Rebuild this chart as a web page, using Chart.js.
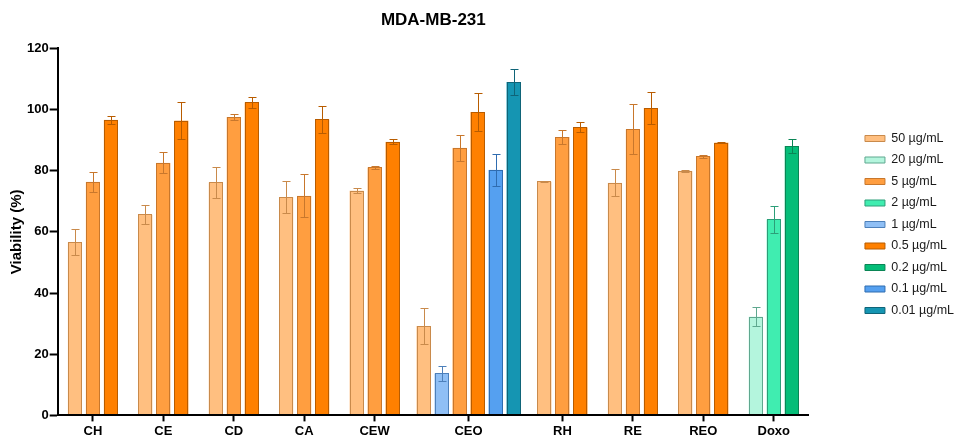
<!DOCTYPE html>
<html>
<head>
<meta charset="utf-8">
<title>MDA-MB-231</title>
<script src="https://cdn.jsdelivr.net/npm/chart.js@4.4.1/dist/chart.umd.min.js"></script>
<style>
  html, body { margin: 0; padding: 0; background: #fff; }
</style>
</head>
<body>
<canvas id="viabilityChart" width="964" height="441"></canvas>
<script>
// extracts / controls on the x axis
const categories = ['CH', 'CE', 'CD', 'CA', 'CEW', 'CEO', 'RH', 'RE', 'REO', 'Doxo'];
const doseLabels = ['50 µg/mL', '20 µg/mL', '5 µg/mL', '2 µg/mL', '1 µg/mL', '0.5 µg/mL', '0.2 µg/mL', '0.1 µg/mL', '0.01 µg/mL'];
const yTicks = [0, 20, 40, 60, 80, 100, 120];

// mean viability (%), one value per category (null = not tested)
const v50  = [56.6, 65.7, 76.2, 71.4, 73.5, 29.2, 76.5, 76.1, 80.0, null];
const v20  = [null, null, null, null, null, null, null, null, null, 32.3];
const v5   = [76.4, 82.6, 97.6, 71.8, 81.1, 87.5, 91.0, 93.6, 84.7, null];
const v2   = [null, null, null, null, null, null, null, null, null, 64.1];
const v1   = [null, null, null, null, null, 13.8, null, null, null, null];
const v05  = [96.7, 96.4, 102.4, 96.8, 89.5, 99.2, 94.2, 100.5, 89.2, null];
const v02  = [null, null, null, null, null, null, null, null, null, 88.1];
const v01  = [null, null, null, null, null, 80.3, null, null, null, null];
const v001 = [null, null, null, null, null, 109.0, null, null, null, null];

// error (SD) for each mean above
const e50  = [4.2, 3.0, 5.0, 5.2, 0.9, 5.9, 0.3, 4.5, 0.4, null];
const e20  = [null, null, null, null, null, null, null, null, null, 3.1];
const e5   = [3.3, 3.4, 1.0, 7.0, 0.5, 4.3, 2.3, 8.1, 0.5, null];
const e2   = [null, null, null, null, null, null, null, null, null, 4.5];
const e1   = [null, null, null, null, null, 2.4, null, null, null, null];
const e05  = [1.3, 6.1, 1.8, 4.4, 0.9, 6.2, 1.6, 5.2, 0.2, null];
const e02  = [null, null, null, null, null, null, null, null, null, 2.2];
const e01  = [null, null, null, null, null, 5.3, null, null, null, null];
const e001 = [null, null, null, null, null, 4.2, null, null, null, null];

const seriesValues = [v50, v20, v5, v2, v1, v05, v02, v01, v001];
const seriesErrors = [e50, e20, e5, e2, e1, e05, e02, e01, e001];

// styling (legend order)
const fillColors = ['#FFBF80', '#B4F5DD', '#FF9E40', '#40EDB0', '#8FBFF5', '#FF8000', '#05BD78', '#55A0F0', '#1595B2'];
const edgeColors = ['#C98A4B', '#5FA88F', '#C8772C', '#2C9E78', '#4D80BA', '#B85C00', '#0A8555', '#2F6CB0', '#0F6478'];
// order of the bars inside a group (1 µg/mL sits right after 50 µg/mL in CEO)
const groupOrder = [0, 1, 4, 2, 3, 5, 6, 7, 8];

const barGap = 2;    // white strip each side of a bar
const capHalf = 4;
const legendGap = 47;
const legendLift = -4;

// each group gets a few category slots so wide groups (CEO) get more room
const barsIn = categories.map((_, i) => seriesValues.filter(s => s[i] != null).length);
const slotLabels = [];
const slotOf = [];
categories.forEach((c, i) => {
  const n = Math.ceil(barsIn[i] * 0.8);
  for (let k = 0; k < n; k++) {
    if (k === (n - 1) / 2) {
      slotOf.push(slotLabels.length);
      slotLabels.push(c);
    } else {
      slotLabels.push('');
    }
  }
});
const spread = arr => {
  const out = slotLabels.map(() => null);
  arr.forEach((v, i) => { out[slotOf[i]] = v; });
  return out;
};

const datasets = groupOrder.map(k => ({
  label: doseLabels[k],
  data: spread(seriesValues[k]),
  errors: spread(seriesErrors[k]),
  legendRank: k,
  edgeColor: edgeColors[k],
  backgroundColor: fillColors[k],
  borderColor: '#ffffff',
  borderWidth: { left: barGap, right: barGap, top: 0, bottom: 0 },
  inflateAmount: 0,
  barThickness: 18,
  skipNull: true
}));

// outlines + error bars on top of the bars
const errorBars = {
  id: 'errorBars',
  afterDatasetsDraw(chart) {
    const { ctx } = chart;
    const y = chart.scales.y;
    chart.data.datasets.forEach((ds, di) => {
      const meta = chart.getDatasetMeta(di);
      meta.data.forEach((bar, i) => {
        const v = ds.data[i];
        if (v == null) return;
        ctx.save();
        ctx.strokeStyle = ds.edgeColor;
        ctx.lineWidth = 1;
        const left = Math.round(bar.x - bar.width / 2 + barGap);
        const w = Math.round(bar.width - 2 * barGap);
        const top = Math.round(bar.y);
        ctx.strokeRect(left + 0.5, top + 0.5, w - 1, bar.base - top);
        const e = ds.errors[i];
        if (e) {
          const hi = Math.round(y.getPixelForValue(v + e)) + 0.5;
          const lo = Math.round(y.getPixelForValue(v - e)) + 0.5;
          const cx = Math.round(bar.x) + 0.5;
          ctx.beginPath();
          ctx.moveTo(cx, hi); ctx.lineTo(cx, lo);
          ctx.moveTo(cx - capHalf, hi); ctx.lineTo(cx + capHalf, hi);
          ctx.moveTo(cx - capHalf, lo); ctx.lineTo(cx + capHalf, lo);
          ctx.stroke();
        }
        ctx.restore();
      });
    });
  }
};

// push the legend a bit away from the plot
const legendShift = {
  id: 'legendShift',
  beforeLayout(chart) {
    const lg = chart.legend;
    if (!lg || lg._widened) return;
    const fit = lg.fit;
    lg.fit = function () {
      fit.call(this);
      this.width += legendGap;
    };
    lg._widened = true;
  },
  afterLayout(chart) {
    const lg = chart.legend;
    lg.left += legendGap;
    lg.top -= legendLift;
    lg.bottom -= legendLift;
  }
};

Chart.defaults.font.family = '"Liberation Sans", Arial, Helvetica, sans-serif';
Chart.defaults.color = '#000';

new Chart(document.getElementById('viabilityChart').getContext('2d'), {
  type: 'bar',
  data: { labels: slotLabels, datasets: datasets },
  options: {
    responsive: false,
    animation: false,
    devicePixelRatio: 1,
    layout: { padding: 0 },
    plugins: {
      title: {
        display: true,
        text: 'MDA-MB-231',
        fullSize: false,
        color: '#000',
        font: { size: 17, weight: 'bold' },
        padding: { top: 10, bottom: 18 }
      },
      legend: {
        position: 'right',
        labels: {
          boxWidth: 20,
          boxHeight: 6,
          padding: 9,
          color: '#1a1a1a',
          font: { size: 12.5 },
          sort: (a, b) => datasets[a.datasetIndex].legendRank - datasets[b.datasetIndex].legendRank,
          generateLabels: chart => Chart.defaults.plugins.legend.labels.generateLabels(chart).map(l => ({
            ...l,
            strokeStyle: datasets[l.datasetIndex].edgeColor,
            lineWidth: 1
          }))
        }
      },
      tooltip: { enabled: false }
    },
    scales: {
      x: {
        grid: {
          drawOnChartArea: false,
          offset: false,
          tickLength: 6,
          tickWidth: 2,
          tickColor: ctx => (slotLabels[ctx.index] ? '#000' : 'rgba(0,0,0,0)')
        },
        border: { color: '#000', width: 2, z: 1 },
        ticks: {
          autoSkip: false,
          maxRotation: 0,
          padding: 2,
          color: '#000',
          font: { size: 13, weight: 'bold' }
        }
      },
      y: {
        min: 0,
        max: 120,
        afterBuildTicks: axis => { axis.ticks = yTicks.map(v => ({ value: v })); },
        grid: {
          drawOnChartArea: false,
          tickLength: 8,
          tickWidth: 2,
          tickColor: '#000'
        },
        border: { color: '#000', width: 2, z: 1 },
        ticks: {
          padding: 1,
          color: '#000',
          font: { size: 13, weight: 'bold' }
        },
        title: {
          display: true,
          text: 'Viability (%)',
          color: '#000',
          font: { size: 15, weight: 'bold' },
          padding: { top: 8, bottom: 0 }
        }
      }
    }
  },
  plugins: [errorBars, legendShift]
});
</script>
</body>
</html>
